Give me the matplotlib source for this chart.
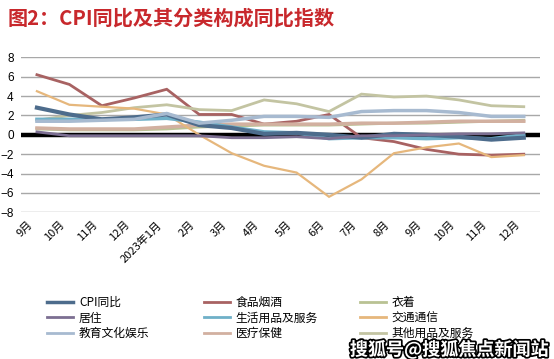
import matplotlib
matplotlib.use("Agg")
import matplotlib.pyplot as plt
import matplotlib.patheffects as pe
import matplotlib.transforms as mtransforms
from matplotlib.lines import Line2D

plt.rcParams['font.family'] = ['Noto Sans CJK SC', 'DejaVu Sans']

months = ['9月', '10月', '11月', '12月', '2023年1月', '2月', '3月', '4月', '5月',
          '6月', '7月', '8月', '9月', '10月', '11月', '12月']

cpi = [2.8, 2.1, 1.6, 1.8, 2.1, 1.0, 0.7, 0.1, 0.2, 0.0, -0.3, 0.1, 0.0, -0.2, -0.5, -0.3]
food = [6.2, 5.2, 3.0, 3.8, 4.7, 2.1, 2.1, 1.1, 1.4, 2.1, -0.3, -0.7, -1.5, -2.0, -2.1, -2.0]
clothing = [0.6, 0.5, 0.5, 0.5, 0.6, 0.8, 0.9, 1.0, 1.0, 1.0, 1.1, 1.2, 1.2, 1.3, 1.4, 1.5]
housing = [0.3, -0.1, -0.1, -0.1, -0.1, -0.1, -0.3, -0.3, -0.2, -0.4, -0.1, -0.1, 0.0, 0.1, 0.1, 0.2]
household = [1.6, 1.6, 1.6, 1.6, 1.7, 1.3, 0.8, 0.3, 0.2, -0.4, -0.3, -0.3, -0.4, -0.3, -0.4, 0.0]
transport = [4.5, 3.1, 2.9, 2.7, 2.1, 0.0, -1.9, -3.2, -3.9, -6.4, -4.6, -1.9, -1.3, -0.9, -2.3, -2.1]
education = [1.4, 1.4, 1.5, 1.6, 2.2, 1.2, 1.5, 1.9, 1.9, 1.8, 2.4, 2.5, 2.5, 2.3, 1.9, 1.9]
medical = [0.7, 0.6, 0.6, 0.6, 0.8, 1.0, 1.1, 1.1, 1.1, 1.1, 1.2, 1.2, 1.3, 1.4, 1.4, 1.4]
other = [1.5, 2.0, 2.3, 2.8, 3.1, 2.6, 2.5, 3.6, 3.2, 2.4, 4.2, 3.9, 4.0, 3.6, 3.0, 2.9]

series = [
    ('CPI同比', cpi, '#4D6C8C', 3.0),
    ('居住', housing, '#7C6F92', 2.0),
    ('教育文化娱乐', education, '#A7BAD0', 2.5),
    ('食品烟酒', food, '#A86262', 2.0),
    ('生活用品及服务', household, '#6FB0C8', 2.5),
    ('医疗保健', medical, '#D2B0A0', 2.5),
    ('衣着', clothing, '#B9C293', 2.0),
    ('交通通信', transport, '#E6B77C', 1.6),
    ('其他用品及服务', other, '#C3C4A2', 2.0),
]

W, H = 554, 359
fig = plt.figure(figsize=(W / 100, H / 100), dpi=100)
ax = fig.add_axes([20.7 / W, 1 - 212.3 / H, (540 - 20.7) / W, (212.3 - 57.3) / H])

x = list(range(len(months)))
ax.set_xlim(-0.5, len(months) - 0.5)
ax.set_ylim(-8, 8)
ax.set_yticks(range(-8, 9, 2))
ax.yaxis.grid(True, color='#A8A8A8', linewidth=1.0)
ax.set_axisbelow(True)
for s in ax.spines.values():
    s.set_visible(False)
ax.axhline(0, color='black', linewidth=3.2, zorder=1.5)

draw_order = ['食品烟酒', '衣着', '医疗保健', '其他用品及服务', '交通通信',
              '生活用品及服务', 'CPI同比', '居住', '教育文化娱乐']
sd = {s[0]: s for s in series}
for name in draw_order:
    n, vals, c, lw = sd[name]
    ax.plot(x, vals, color=c, linewidth=lw, solid_joinstyle='miter', zorder=2)

ax.set_xticks(x)
ax.set_xticklabels(months, rotation=45, ha='right', rotation_mode='anchor', fontsize=8)
ax.tick_params(axis='x', length=0, pad=5)
ax.tick_params(axis='y', length=0, pad=5, labelsize=8.5)
offset = mtransforms.ScaledTranslation(-10 / 100, 0, fig.dpi_scale_trans)
for lab in ax.get_xticklabels():
    lab.set_transform(lab.get_transform() + offset)
for lab in ax.get_yticklabels():
    lab.set_fontfamily(['Liberation Sans', 'DejaVu Sans'])

fig.text(8 / W, 1 - 18 / H, '图2：CPI同比及其分类构成同比指数', color='#C8282C',
         fontsize=14.5, fontweight='bold', va='center', ha='left')

# legend: three columns
cols_x = [47, 204, 360]
for ci in range(3):
    handles = []
    for ri in range(3):
        idx = ci * 3 + ri
        handles.append(Line2D([0], [0], color=series[idx][2], linewidth=2.5 if idx == 0 else 2.0))
    fig.legend(handles, [series[ci * 3 + ri][0] for ri in range(3)],
               loc='upper left', bbox_to_anchor=(cols_x[ci] / W, 1 - 296 / H),
               frameon=False, fontsize=8.5, handlelength=2.2, handletextpad=0.5,
               labelspacing=0.22, borderaxespad=0, borderpad=0)

fig.text(548 / W, 1 - 350 / H, '搜狐号@搜狐焦点新闻站', color='white', fontsize=13,
         fontweight='bold', ha='right', va='center',
         path_effects=[pe.withStroke(linewidth=2.5, foreground='black')])

fig.savefig('out.png', dpi=100, facecolor='white')
